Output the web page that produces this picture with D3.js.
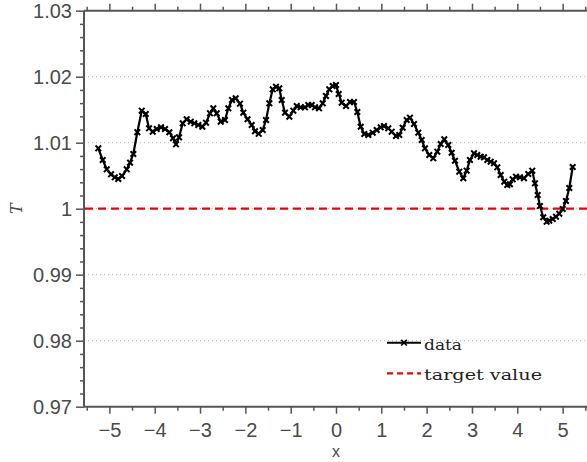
<!DOCTYPE html>
<html>
<head>
<meta charset="utf-8">
<script src="https://cdn.jsdelivr.net/npm/d3@7"></script>
<style>
  html, body { margin: 0; padding: 0; background: #fff; }
  svg { display: block; }
</style>
</head>
<body>
<svg id="chart" width="587" height="462"></svg>
<script>
// ---- data ----
const xValues = [
  -5.244, -5.147, -5.058, -4.964, -4.882, -4.803, -4.721, -4.617, -4.544, -4.472,
  -4.383, -4.286, -4.198, -4.125, -4.044, -3.955, -3.861, -3.772, -3.677, -3.596,
  -3.530, -3.463, -3.382, -3.294, -3.205, -3.126, -3.038, -2.949, -2.868, -2.780,
  -2.707, -2.632, -2.544, -2.449, -2.376, -2.294, -2.213, -2.118, -2.045, -1.952,
  -1.860, -1.787, -1.705, -1.617, -1.544, -1.471, -1.396, -1.324, -1.251, -1.198,
  -1.125, -1.030, -0.942, -0.867, -0.779, -0.684, -0.611, -0.536, -0.463, -0.375,
  -0.293, -0.221, -0.148, -0.073, 0.000, 0.060, 0.126, 0.221, 0.309, 0.397,
  0.470, 0.545, 0.624, 0.713, 0.810, 0.898, 0.986, 1.059, 1.154, 1.229,
  1.324, 1.396, 1.471, 1.560, 1.632, 1.721, 1.816, 1.891, 1.963, 2.058,
  2.146, 2.235, 2.310, 2.389, 2.477, 2.552, 2.625, 2.720, 2.808, 2.883,
  2.956, 3.044, 3.117, 3.192, 3.265, 3.338, 3.413, 3.486, 3.558, 3.633,
  3.713, 3.779, 3.838, 3.898, 3.971, 4.059, 4.147, 4.242, 4.330, 4.390,
  4.450, 4.500, 4.573, 4.648, 4.706, 4.781, 4.853, 4.926, 5.001, 5.074,
  5.147, 5.222
];
const tValues = [
  1.00915, 1.00738, 1.00597, 1.00521, 1.00476, 1.00450, 1.00495, 1.00597, 1.00697, 1.00829,
  1.01159, 1.01485, 1.01435, 1.01218, 1.01167, 1.01208, 1.01233, 1.01208, 1.01158, 1.01067,
  1.00976, 1.01082, 1.01294, 1.01355, 1.01318, 1.01294, 1.01268, 1.01242, 1.01303, 1.01445,
  1.01521, 1.01445, 1.01318, 1.01344, 1.01521, 1.01647, 1.01673, 1.01591, 1.01455, 1.01355,
  1.01268, 1.01173, 1.01135, 1.01192, 1.01344, 1.01597, 1.01809, 1.01848, 1.01824, 1.01647,
  1.01455, 1.01394, 1.01485, 1.01556, 1.01536, 1.01536, 1.01571, 1.01571, 1.01536, 1.01521,
  1.01597, 1.01708, 1.01809, 1.01859, 1.01874, 1.01738, 1.01606, 1.01556, 1.01617, 1.01617,
  1.01465, 1.01242, 1.01132, 1.01117, 1.01152, 1.01192, 1.01233, 1.01253, 1.01218, 1.01167,
  1.01102, 1.01117, 1.01227, 1.01344, 1.01379, 1.01283, 1.01152, 1.01041, 1.00915, 1.00814,
  1.00764, 1.00864, 1.00980, 1.01052, 1.00965, 1.00848, 1.00727, 1.00561, 1.00461, 1.00576,
  1.00738, 1.00839, 1.00814, 1.00788, 1.00779, 1.00738, 1.00712, 1.00688, 1.00627, 1.00511,
  1.00409, 1.00359, 1.00370, 1.00445, 1.00485, 1.00476, 1.00461, 1.00526, 1.00576, 1.00385,
  1.00208, 1.00041, 0.99870, 0.99803, 0.99818, 0.99844, 0.99879, 0.99924, 0.99995, 1.00117,
  1.00314, 1.00632
];
const targetValue = 1.0;
const xTicks = [-5, -4, -3, -2, -1, 0, 1, 2, 3, 4, 5];
const xMinorTicks = [-5.5, -4.5, -3.5, -2.5, -1.5, -0.5, 0.5, 1.5, 2.5, 3.5, 4.5, 5.5];
const yTicks = [0.97, 0.98, 0.99, 1.00, 1.01, 1.02, 1.03];
const yTickLabels = ["0.97", "0.98", "0.99", "1", "1.01", "1.02", "1.03"];
const yMinorTicks = [0.972, 0.974, 0.976, 0.978, 0.982, 0.984, 0.986, 0.988,
  0.992, 0.994, 0.996, 0.998, 1.002, 1.004, 1.006, 1.008,
  1.012, 1.014, 1.016, 1.018, 1.022, 1.024, 1.026, 1.028];
const gridValues = [0.98, 0.99, 1.00, 1.01, 1.02];
const legendLabels = ["data", "target value"];

// ---- layout ----
const pL = 84, pR = 588, pT = 10.7, pB = 406.7;
const axisColor = "#555";
const textColor = "#4a4a4a";

const svg = d3.select("#chart");
const x = d3.scaleLinear().domain([-5.56, 5.56]).range([pL, pR]);
const y = d3.scaleLinear().domain([0.97, 1.03]).range([pB, pT]);

// grid lines (dotted)
svg.append("g").selectAll("line").data(gridValues).join("line")
  .attr("x1", pL).attr("x2", pR)
  .attr("y1", d => y(d)).attr("y2", d => y(d))
  .attr("stroke", "#b0b0b0").attr("stroke-width", 1)
  .attr("stroke-dasharray", "1,3");

// target line
svg.append("line")
  .attr("x1", pL + 1).attr("x2", pR)
  .attr("y1", y(targetValue)).attr("y2", y(targetValue))
  .attr("stroke", "#ee0000").attr("stroke-width", 2.2)
  .attr("stroke-dasharray", "8,5");

// data line
const pts = xValues.map((v, i) => [v, tValues[i]]);
svg.append("path").datum(pts)
  .attr("fill", "none").attr("stroke", "#000").attr("stroke-width", 2.2)
  .attr("stroke-linejoin", "round")
  .attr("d", d3.line().x(d => x(d[0])).y(d => y(d[1])));

const cross = "M-2.8,-2.8L2.8,2.8M-2.8,2.8L2.8,-2.8";
svg.append("g").selectAll("path").data(pts).join("path")
  .attr("transform", d => `translate(${x(d[0])},${y(d[1])})`)
  .attr("d", cross).attr("stroke", "#000").attr("stroke-width", 2)
  .attr("fill", "none");

// axes
function styleAxis(g) {
  g.select(".domain").remove();
  g.selectAll(".tick line").attr("stroke", axisColor).attr("stroke-width", 1.5);
  g.selectAll("text").attr("fill", textColor)
    .style("font-family", "'Liberation Sans', Arial, sans-serif")
    .style("font-size", "20px");
}

const gB = svg.append("g").attr("transform", `translate(0,${pB})`)
  .call(d3.axisBottom(x).tickValues(xTicks).tickSize(7).tickPadding(9)
    .tickFormat(d3.format("d")));
styleAxis(gB);
const gBm = svg.append("g").attr("transform", `translate(0,${pB})`)
  .call(d3.axisBottom(x).tickValues(xMinorTicks).tickSize(4).tickFormat(""));
styleAxis(gBm);
const gT = svg.append("g").attr("transform", `translate(0,${pT})`)
  .call(d3.axisTop(x).tickValues(xTicks).tickSize(7).tickFormat(""));
styleAxis(gT);
const gTm = svg.append("g").attr("transform", `translate(0,${pT})`)
  .call(d3.axisTop(x).tickValues(xMinorTicks).tickSize(4).tickFormat(""));
styleAxis(gTm);
const gL = svg.append("g").attr("transform", `translate(${pL},0)`)
  .call(d3.axisLeft(y).tickValues(yTicks).tickSize(8).tickPadding(4)
    .tickFormat((d, i) => yTickLabels[i]));
styleAxis(gL);
const gLm = svg.append("g").attr("transform", `translate(${pL},0)`)
  .call(d3.axisLeft(y).tickValues(yMinorTicks).tickSize(4).tickFormat(""));
styleAxis(gLm);

// axis lines
svg.append("line").attr("x1", pL).attr("x2", pL).attr("y1", pT).attr("y2", pB)
  .attr("stroke", axisColor).attr("stroke-width", 2);
svg.append("line").attr("x1", pL).attr("x2", pR).attr("y1", pB).attr("y2", pB)
  .attr("stroke", axisColor).attr("stroke-width", 2);
svg.append("line").attr("x1", pL).attr("x2", pR).attr("y1", pT).attr("y2", pT)
  .attr("stroke", axisColor).attr("stroke-width", 2);

// axis labels
svg.append("text").text("x")
  .attr("x", x(0)).attr("y", 457).attr("text-anchor", "middle")
  .attr("fill", textColor)
  .style("font-family", "'Liberation Sans', Arial, sans-serif")
  .style("font-size", "16px");
svg.append("text").text("T")
  .attr("transform", `translate(22,${y(1)}) rotate(-90)`)
  .attr("text-anchor", "middle")
  .attr("fill", textColor)
  .style("font-family", "'DejaVu Serif', serif")
  .style("font-style", "italic")
  .style("font-size", "16px");

// legend
const lg = svg.append("g");
const lx0 = 387, lx1 = 421, ly0 = 342.7, ly1 = 373.3;
lg.append("line").attr("x1", lx0).attr("x2", lx1).attr("y1", ly0).attr("y2", ly0)
  .attr("stroke", "#000").attr("stroke-width", 2);
lg.append("path").attr("transform", `translate(${(lx0 + lx1) / 2},${ly0})`)
  .attr("d", cross).attr("stroke", "#000").attr("stroke-width", 1.7);
lg.append("line").attr("x1", lx0).attr("x2", lx1).attr("y1", ly1).attr("y2", ly1)
  .attr("stroke", "#ee0000").attr("stroke-width", 2.2)
  .attr("stroke-dasharray", "6,4");
lg.selectAll("text").data(legendLabels).join("text")
  .attr("x", 424).attr("y", (d, i) => i === 0 ? 349.5 : 380)
  .text(d => d)
  .attr("fill", "#222")
  .style("font-family", "'DejaVu Serif', 'Liberation Serif', serif")
  .style("font-size", "15px")
  .attr("textLength", (d, i) => i === 0 ? 38 : 118)
  .attr("lengthAdjust", "spacingAndGlyphs");
</script>
</body>
</html>
